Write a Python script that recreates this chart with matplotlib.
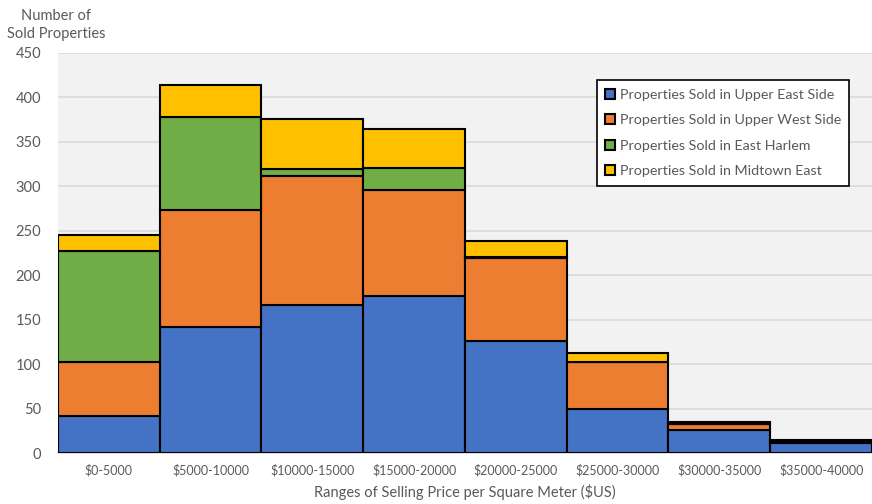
import numpy as np
import matplotlib.pyplot as plt

plt.rcParams['font.family'] = ['Lato', 'DejaVu Sans']

# price ranges and number of sold properties per neighbourhood
ranges = ["$0-5000", "$5000-10000", "$10000-15000", "$15000-20000",
          "$20000-25000", "$25000-30000", "$30000-35000", "$35000-40000"]
upper_east = [42, 142, 167, 177, 126, 50, 26, 11]
upper_west = [60, 131, 145, 119, 93, 52, 7, 2]
east_harlem = [125, 105, 8, 25, 1, 0, 0, 1]
midtown_east = [18, 36, 56, 43, 18, 10, 2, 1]

series = [
    ("Properties Sold in Upper East Side", upper_east, "#4472c4"),
    ("Properties Sold in Upper West Side", upper_west, "#ed7d31"),
    ("Properties Sold in East Harlem", east_harlem, "#70ad47"),
    ("Properties Sold in Midtown East", midtown_east, "#ffc000"),
]

fig = plt.figure(figsize=(8.72, 5.04), dpi=100)
ax = fig.add_axes([0.0665, 0.101, 0.9335, 0.794])
ax.set_facecolor("#f2f2f2")

x = np.arange(len(ranges))
bottom = np.zeros(len(ranges))
for label, vals, color in series:
    vals = np.array(vals)
    ax.bar(x, vals, width=1.0, bottom=bottom, color=color, edgecolor="black",
           linewidth=1.5, label=label, zorder=3)
    bottom += vals

ax.set_xlim(-0.5, len(ranges) - 0.5)
ax.set_ylim(0, 450)
ax.set_yticks(range(0, 451, 50))
ax.yaxis.grid(True, color="#d9d9d9", linewidth=1.2, zorder=0)
ax.set_axisbelow(True)

ax.set_xticks(x)
ax.set_xticklabels(ranges, fontsize=9, color="#595959")
ax.tick_params(axis="y", labelsize=10.5, labelcolor="#595959", length=0, pad=12)
ax.tick_params(axis="x", length=0, pad=8)

for side in ["top", "right", "left"]:
    ax.spines[side].set_visible(False)
ax.spines["bottom"].set_color("#d9d9d9")
ax.spines["bottom"].set_linewidth(1.2)

ax.set_xlabel("Ranges of Selling Price per Square Meter ($US)", fontsize=10.5,
              color="#595959", labelpad=5)
fig.text(0.064, 0.918, "Number of\nSold Properties", ha="center", va="bottom",
         fontsize=10.5, color="#595959", linespacing=1.35)

leg = ax.legend(loc="upper right", bbox_to_anchor=(0.981, 0.95), fontsize=10.3,
                frameon=True, fancybox=False, handlelength=0.7, handleheight=0.7,
                handletextpad=0.3, labelspacing=0.95, borderpad=0.6,
                labelcolor="#595959")
leg.get_frame().set_edgecolor("black")
leg.get_frame().set_linewidth(1.2)
leg.get_frame().set_facecolor("white")
leg.get_frame().set_alpha(1)

fig.savefig("out.png", dpi=100)
